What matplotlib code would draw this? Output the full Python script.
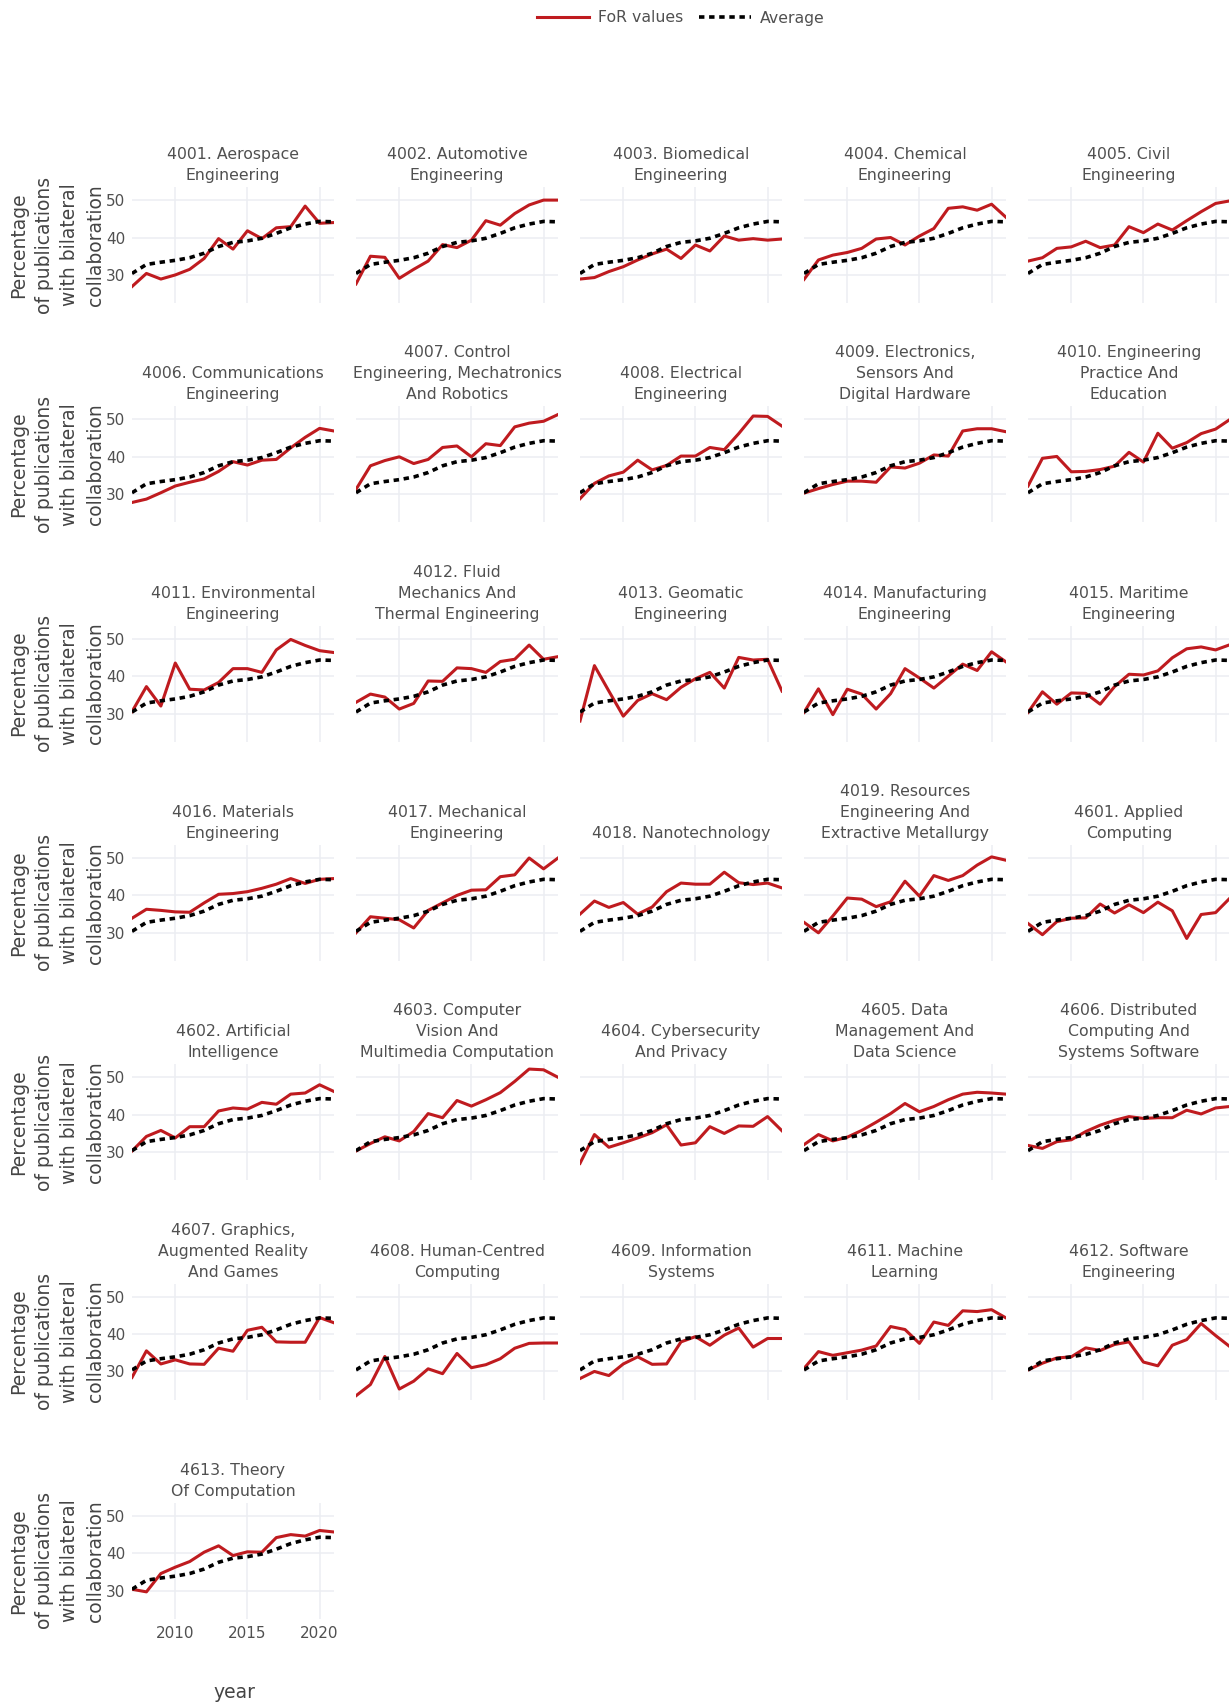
import matplotlib
matplotlib.use('Agg')
import matplotlib.pyplot as plt
from matplotlib.lines import Line2D

years = list(range(2007, 2022))

average = [30.4, 32.8, 33.4, 33.9, 34.6, 35.8, 37.6, 38.7, 39.1, 39.8, 41.1, 42.6, 43.6, 44.3, 44.2]

titles = [
    '4001. Aerospace\nEngineering', '4002. Automotive\nEngineering', '4003. Biomedical\nEngineering',
    '4004. Chemical\nEngineering', '4005. Civil\nEngineering',
    '4006. Communications\nEngineering', '4007. Control\nEngineering, Mechatronics\nAnd Robotics',
    '4008. Electrical\nEngineering', '4009. Electronics,\nSensors And\nDigital Hardware',
    '4010. Engineering\nPractice And\nEducation',
    '4011. Environmental\nEngineering', '4012. Fluid\nMechanics And\nThermal Engineering',
    '4013. Geomatic\nEngineering', '4014. Manufacturing\nEngineering', '4015. Maritime\nEngineering',
    '4016. Materials\nEngineering', '4017. Mechanical\nEngineering', '4018. Nanotechnology',
    '4019. Resources\nEngineering And\nExtractive Metallurgy', '4601. Applied\nComputing',
    '4602. Artificial\nIntelligence', '4603. Computer\nVision And\nMultimedia Computation',
    '4604. Cybersecurity\nAnd Privacy', '4605. Data\nManagement And\nData Science',
    '4606. Distributed\nComputing And\nSystems Software',
    '4607. Graphics,\nAugmented Reality\nAnd Games', '4608. Human-Centred\nComputing',
    '4609. Information\nSystems', '4611. Machine\nLearning', '4612. Software\nEngineering',
    '4613. Theory\nOf Computation',
]

v4001 = [26.9, 30.4, 28.9, 30.0, 31.5, 34.4, 39.7, 36.9, 41.8, 39.7, 42.6, 42.9, 48.4, 43.8, 44.0]
v4002 = [27.6, 35.0, 34.7, 29.1, 31.5, 33.7, 38.1, 37.3, 39.3, 44.5, 43.3, 46.4, 48.7, 50.0, 50.0]
v4003 = [28.9, 29.3, 30.9, 32.2, 34.0, 35.6, 36.9, 34.4, 38.0, 36.4, 40.4, 39.3, 39.7, 39.3, 39.6]
v4004 = [28.8, 34.0, 35.3, 36.0, 37.1, 39.6, 40.0, 38.0, 40.4, 42.4, 47.8, 48.2, 47.3, 48.9, 45.4]
v4005 = [33.7, 34.6, 37.1, 37.5, 39.0, 37.3, 38.0, 42.9, 41.3, 43.6, 42.0, 44.5, 46.9, 49.1, 49.8]
v4006 = [27.8, 28.7, 30.4, 32.2, 33.2, 34.1, 36.1, 38.7, 37.8, 39.1, 39.3, 42.4, 45.2, 47.6, 46.9]
v4007 = [31.3, 37.6, 39.0, 40.0, 38.2, 39.3, 42.5, 42.9, 40.0, 43.5, 43.0, 48.0, 49.0, 49.5, 51.3]
v4008 = [28.8, 32.9, 34.9, 35.9, 39.1, 36.5, 37.7, 40.2, 40.2, 42.5, 41.9, 46.2, 50.9, 50.8, 48.2]
v4009 = [30.3, 31.5, 32.6, 33.5, 33.5, 33.2, 37.3, 37.0, 38.3, 40.5, 40.2, 46.9, 47.5, 47.5, 46.7]
v4010 = [32.2, 39.6, 40.1, 36.0, 36.1, 36.6, 37.5, 41.2, 38.6, 46.3, 42.3, 43.8, 46.2, 47.4, 50.0]
v4011 = [30.5, 37.2, 32.0, 43.5, 36.5, 36.3, 38.3, 42.0, 42.0, 41.0, 47.0, 49.8, 48.2, 46.8, 46.3]
v4012 = [33.0, 35.2, 34.4, 31.2, 32.7, 38.7, 38.6, 42.2, 42.0, 41.0, 43.9, 44.5, 48.3, 44.5, 45.2]
v4013 = [28.0, 42.8, 36.0, 29.3, 33.5, 35.3, 33.7, 37.0, 39.3, 41.0, 36.8, 45.0, 44.3, 44.5, 36.0]
v4014 = [30.3, 36.6, 29.7, 36.5, 35.2, 31.2, 35.3, 42.0, 39.5, 36.8, 40.0, 43.2, 41.5, 46.5, 43.8]
v4015 = [30.3, 35.8, 32.5, 35.5, 35.4, 32.5, 37.2, 40.5, 40.3, 41.4, 44.9, 47.3, 47.8, 47.0, 48.4]
v4016 = [33.9, 36.3, 36.0, 35.6, 35.5, 38.0, 40.3, 40.5, 41.0, 41.9, 43.0, 44.5, 43.2, 44.3, 44.5]
v4017 = [30.0, 34.3, 33.9, 33.5, 31.3, 36.0, 38.0, 40.0, 41.4, 41.5, 45.0, 45.5, 50.0, 47.1, 50.0]
v4018 = [35.0, 38.5, 36.8, 38.1, 35.0, 36.9, 41.0, 43.3, 43.0, 43.0, 46.2, 43.4, 42.9, 43.3, 42.0]
v4019 = [32.8, 30.0, 34.5, 39.3, 39.0, 37.0, 38.3, 43.8, 39.8, 45.3, 44.0, 45.3, 48.1, 50.3, 49.4]
v4601 = [32.5, 29.5, 33.0, 33.9, 34.0, 37.7, 35.3, 37.5, 35.4, 38.2, 35.9, 28.5, 34.9, 35.4, 39.3]
v4602 = [30.3, 34.2, 35.8, 33.8, 36.8, 36.8, 41.0, 41.8, 41.5, 43.3, 42.8, 45.5, 45.8, 48.0, 46.2]
v4603 = [30.3, 32.3, 34.1, 33.0, 35.5, 40.3, 39.2, 43.8, 42.3, 44.0, 45.9, 48.9, 52.2, 52.0, 50.0]
v4604 = [27.0, 34.7, 31.3, 32.5, 33.8, 35.2, 37.3, 31.9, 32.5, 36.8, 35.0, 37.0, 36.9, 39.5, 35.7]
v4605 = [32.0, 34.7, 33.0, 34.0, 35.8, 38.0, 40.3, 43.0, 40.8, 42.2, 44.0, 45.5, 46.0, 45.8, 45.5]
v4606 = [31.8, 31.0, 32.8, 33.3, 35.5, 37.2, 38.5, 39.5, 39.0, 39.2, 39.2, 41.2, 40.2, 41.8, 42.2]
v4607 = [28.4, 35.5, 32.0, 33.1, 32.0, 31.9, 36.2, 35.4, 41.0, 41.8, 37.9, 37.8, 37.8, 44.4, 43.0]
v4608 = [23.5, 26.5, 34.0, 25.3, 27.4, 30.7, 29.4, 34.8, 31.0, 31.8, 33.4, 36.2, 37.5, 37.6, 37.6]
v4609 = [28.1, 30.0, 28.9, 32.0, 33.9, 31.9, 32.0, 37.9, 39.3, 37.0, 39.7, 41.6, 36.5, 38.8, 38.8]
v4611 = [30.8, 35.3, 34.3, 35.0, 35.7, 36.8, 42.0, 41.2, 37.5, 43.2, 42.3, 46.2, 46.0, 46.5, 44.3]
v4612 = [30.4, 32.2, 33.6, 33.9, 36.3, 35.6, 37.2, 37.9, 32.5, 31.5, 37.0, 38.5, 42.8, 39.6, 36.6]
v4613 = [30.4, 29.7, 34.6, 36.3, 37.8, 40.3, 42.0, 39.4, 40.4, 40.3, 44.2, 45.0, 44.6, 46.1, 45.7]

series = [v4001, v4002, v4003, v4004, v4005, v4006, v4007, v4008, v4009, v4010,
          v4011, v4012, v4013, v4014, v4015, v4016, v4017, v4018, v4019, v4601,
          v4602, v4603, v4604, v4605, v4606, v4607, v4608, v4609, v4611, v4612, v4613]

RED = '#bf1b1f'
GRID = '#eceef2'
TEXT = '#505050'
DOT = (0, (1.5, 1.3))
W, H = 1229, 1704

plt.rcParams['font.family'] = 'DejaVu Sans'
fig = plt.figure(figsize=(W / 100, H / 100), dpi=100)

ncols = 5
ylabel = 'Percentage\nof publications\nwith bilateral\ncollaboration'

for i, (title, vals) in enumerate(zip(titles, series)):
    row, col = divmod(i, ncols)
    left = 132 + 224 * col
    top = 187 + 219.3 * row
    ax = fig.add_axes([left / W, 1 - (top + 116) / H, 202 / W, 116 / H])
    ax.plot(years, average, color='black', lw=2.6, ls=DOT, zorder=3)
    ax.plot(years, vals, color=RED, lw=2.2, zorder=2)
    ax.set_xlim(2007, 2021)
    ax.set_ylim(22.5, 53.5)
    ax.set_xticks([2010, 2015, 2020])
    ax.set_yticks([30, 40, 50])
    ax.grid(True, color=GRID, lw=1.1)
    ax.set_axisbelow(True)
    for s in ax.spines.values():
        s.set_visible(False)
    ax.tick_params(length=0, labelsize=11, labelcolor=TEXT, pad=5)
    if col != 0:
        ax.set_yticklabels([])
    if i != len(titles) - 1:
        ax.set_xticklabels([])
    ax.set_title(title, fontsize=11.3, color=TEXT, pad=5, linespacing=1.5)
    if col == 0:
        fig.text(57 / W, 1 - (top + 58) / H, ylabel, rotation=90, ha='center', va='center',
                 fontsize=13.5, color='#444444', multialignment='center', linespacing=1.45)

fig.text(234 / W, 1 - 1692 / H, 'year', ha='center', va='center', fontsize=13.5, color='#444444')

handles = [Line2D([], [], color=RED, lw=2.2),
           Line2D([], [], color='black', lw=2.6, ls=DOT)]
leg = fig.legend(handles, ['FoR values', 'Average'], loc='center', bbox_to_anchor=(681 / W, 1 - 18 / H),
                 ncol=2, frameon=False, fontsize=11.3, handlelength=3.3, handletextpad=0.6,
                 columnspacing=1.0)
for t in leg.get_texts():
    t.set_color(TEXT)

fig.savefig('out.png', dpi=100, facecolor='white')
